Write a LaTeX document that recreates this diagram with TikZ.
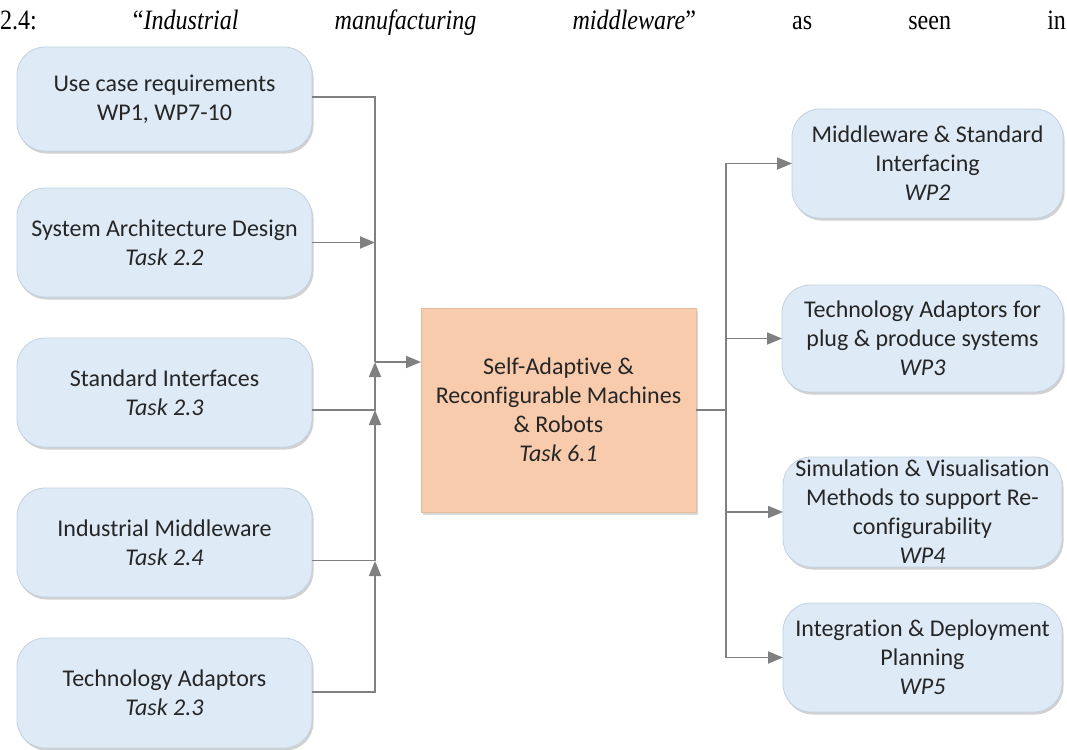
\documentclass[tikz,border=0pt]{standalone}
\usepackage{fontspec}
\setmainfont{Liberation Serif}
\newfontfamily\headfont{Liberation Serif}[FakeStretch=0.86,Ligatures=TeX]
\newfontfamily\boxfont{Carlito}[Ligatures=NoCommon]
\usetikzlibrary{arrows.meta,shadows}
\definecolor{boxblue}{HTML}{DEEAF6}
\definecolor{boxedge}{HTML}{C3D1E0}
\definecolor{peach}{HTML}{F8CBAD}
\definecolor{wiregray}{HTML}{808080}
\definecolor{ink}{HTML}{262626}
\begin{document}
\begin{tikzpicture}[x=1pt,y=-1pt,
  every node/.style={inner sep=0pt,outer sep=0pt},
  boxtext/.style={align=center,text=ink,font=\boxfont\fontsize{24}{29}\selectfont},
  task/.style={boxtext,rectangle,draw=boxedge,line width=0.8pt,fill=boxblue,
    rounded corners=28pt,
    drop shadow={shadow xshift=1.5pt,shadow yshift=-2.5pt,opacity=0.18,fill=black}},
  core/.style={boxtext,rectangle,fill=peach,draw=peach!92!black,line width=0.5pt,
    drop shadow={shadow xshift=1.5pt,shadow yshift=-2.5pt,opacity=0.15,fill=black}},
  wire/.style={draw=wiregray,line width=1.8pt},
  feed/.style={wire,-{Triangle[length=15pt,width=12pt]}}]
\useasboundingbox (0,0) rectangle (1067,749);

% heading line, justified across the page
\node[anchor=base west,font=\headfont\fontsize{28}{32}\selectfont] (title) at (0,30)
  {\hbox to 1066pt{2.4:\hfill “\textit{Industrial}\hfill\textit{manufacturing}\hfill\textit{middleware}”\hfill as\hfill seen\hfill in}};

% inputs (left column)
\node[task,minimum width=295pt,minimum height=104pt] (uc) at (164.5,99)
  {Use case requirements\\WP1, WP7-10};
\node[task,minimum width=295pt,minimum height=109pt] (sa) at (164.5,242.5)
  {System Architecture Design\\\textit{Task 2.2}};
\node[task,minimum width=295pt,minimum height=109pt] (si) at (164.5,392.5)
  {Standard Interfaces\\\textit{Task 2.3}};
\node[task,minimum width=295pt,minimum height=109pt] (im) at (164.5,542.5)
  {Industrial Middleware\\\textit{Task 2.4}};
\node[task,minimum width=295pt,minimum height=110pt] (ta) at (164.5,693)
  {Technology Adaptors\\\textit{Task 2.3}};

% central task
\node[core,minimum width=275pt,minimum height=204pt] (core) at (558.5,410)
  {Self-Adaptive \&\\Reconfigurable Machines\\\& Robots\\\textit{Task 6.1}};

% outputs (right column)
\node[task,minimum width=271pt,minimum height=109pt] (mw) at (927.5,163.5)
  {Middleware \& Standard\\Interfacing\\\textit{WP2}};
\node[task,minimum width=281pt,minimum height=107pt] (tp) at (922.5,338.5)
  {Technology Adaptors for\\plug \& produce systems\\\textit{WP3}};
\node[task,minimum width=279pt,minimum height=110pt] (sv) at (922.5,512)
  {Simulation \& Visualisation\\Methods to support Re-\\configurability\\\textit{WP4}};
\node[task,minimum width=279pt,minimum height=109pt] (ip) at (922.5,657.5)
  {Integration \& Deployment\\Planning\\\textit{WP5}};

% junction points of the collector and distributor lines
\coordinate (jn) at (375,362);
\coordinate (k2) at (375,410);
\coordinate (k3) at (375,561);
\coordinate (rj) at (726,410);

% collector on the left
\draw[wire] ([yshift=2pt]uc.east) -| (jn);
\draw[feed] (sa.east) -- (sa.east -| jn);
\draw[feed] ([yshift=-17.5pt]si.east) -| (jn);
\draw[feed] ([yshift=-18pt]im.east) -| (k2);
\draw[feed] ([yshift=1pt]ta.east) -| (k3);
\draw[feed] (jn) -- (core.west |- jn);

% distributor on the right
\draw[wire] (core.east) -- (rj);
\draw[feed] (rj) |- (mw.west);
\draw[feed] (rj) |- (tp.west);
\draw[feed] (rj) |- (sv.west);
\draw[feed] (rj) |- (ip.west);
\end{tikzpicture}
\end{document}
